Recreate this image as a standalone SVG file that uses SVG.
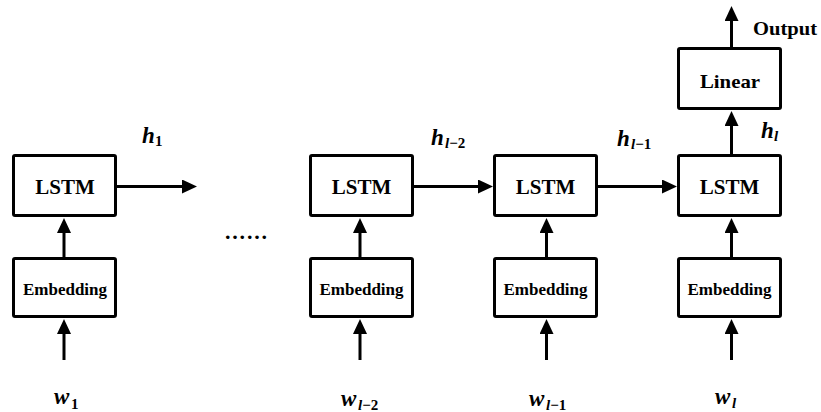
<svg xmlns="http://www.w3.org/2000/svg" width="821" height="412" viewBox="0 0 821 412">
<style>
.box{fill:#fff;stroke:#000;stroke-width:3;}
.lbl{font-family:"Liberation Serif","Times New Roman",serif;font-weight:bold;fill:#000;text-anchor:middle;}
.lstm{font-size:21px;}
.emb{font-size:17px;}
.lin{font-size:19px;}
.m{font-family:"Liberation Serif","Times New Roman",serif;font-weight:bold;font-style:italic;font-size:23px;fill:#000;}
.s{font-size:15px;}
.up{font-style:normal;}
.c{stroke:#000;stroke-width:3;fill:none;marker-end:url(#ah);}
</style>
<defs>
<marker id="ah" markerUnits="userSpaceOnUse" markerWidth="15" markerHeight="14" viewBox="0 0 15 14" refX="1" refY="7" orient="auto">
<path d="M0,0 L15,7 L0,14 z" fill="#000"/>
</marker>
</defs>
<g id="connectors">
<line class="c" x1="64" y1="360" x2="64" y2="333"/>
<line class="c" x1="64" y1="257" x2="64" y2="232"/>
<line class="c" x1="117" y1="186.5" x2="183" y2="186.5"/>
<line class="c" x1="360" y1="360" x2="360" y2="333"/>
<line class="c" x1="360" y1="257" x2="360" y2="232"/>
<line class="c" x1="414" y1="186.5" x2="479" y2="186.5"/>
<line class="c" x1="546.5" y1="360" x2="546.5" y2="333"/>
<line class="c" x1="546.5" y1="257" x2="546.5" y2="232"/>
<line class="c" x1="598" y1="186.5" x2="663" y2="186.5"/>
<line class="c" x1="731.5" y1="360" x2="731.5" y2="333"/>
<line class="c" x1="731.5" y1="257" x2="731.5" y2="232"/>
<line class="c" x1="731.5" y1="154" x2="731.5" y2="125"/>
<line class="c" x1="731.5" y1="47" x2="731.5" y2="20"/>
</g>
<g id="lstm1"><rect class="box" x="13.5" y="155.5" width="102" height="60" rx="1.5"/><text class="lbl lstm" x="65" y="194">LSTM</text></g>
<g id="emb1"><rect class="box" x="13.5" y="258.5" width="102" height="58" rx="1.5"/><text class="lbl emb" x="65" y="295">Embedding</text></g>
<g id="lstm2"><rect class="box" x="310.5" y="155.5" width="102" height="60" rx="1.5"/><text class="lbl lstm" x="361.5" y="194">LSTM</text></g>
<g id="emb2"><rect class="box" x="310.5" y="258.5" width="102" height="58" rx="1.5"/><text class="lbl emb" x="361.5" y="295">Embedding</text></g>
<g id="lstm3"><rect class="box" x="494.5" y="155.5" width="102" height="60" rx="1.5"/><text class="lbl lstm" x="545.5" y="194">LSTM</text></g>
<g id="emb3"><rect class="box" x="494.5" y="258.5" width="102" height="58" rx="1.5"/><text class="lbl emb" x="545.5" y="295">Embedding</text></g>
<g id="lstm4"><rect class="box" x="678.5" y="155.5" width="102" height="60" rx="1.5"/><text class="lbl lstm" x="729.5" y="194">LSTM</text></g>
<g id="emb4"><rect class="box" x="678.5" y="258.5" width="102" height="58" rx="1.5"/><text class="lbl emb" x="729.5" y="295">Embedding</text></g>
<g id="linear"><rect class="box" x="678.5" y="48.5" width="102" height="60" rx="1.5"/><text class="lbl lin" x="730" y="88" textLength="60" lengthAdjust="spacingAndGlyphs">Linear</text></g>
<g id="labels">
<text class="lbl" x="785" y="35" font-size="18" textLength="64" lengthAdjust="spacingAndGlyphs">Output</text>
<text class="m" x="142" y="143">h<tspan class="s up" x="155" y="146">1</tspan></text>
<text class="m" x="431" y="145">h<tspan class="s" x="445" y="148">l<tspan class="up">−2</tspan></tspan></text>
<text class="m" x="617" y="146">h<tspan class="s" x="631" y="149">l<tspan class="up">−1</tspan></tspan></text>
<text class="m" x="761" y="138">h<tspan class="s" x="774" y="141">l</tspan></text>
<text class="m" x="54" y="404">w<tspan class="s up" x="71" y="409">1</tspan></text>
<text class="m" x="341" y="406">w<tspan class="s" x="358" y="410">l<tspan class="up">−2</tspan></tspan></text>
<text class="m" x="529" y="406">w<tspan class="s" x="546" y="410">l<tspan class="up">−1</tspan></tspan></text>
<text class="m" x="715" y="404">w<tspan class="s" x="732" y="408">l</tspan></text>
<text x="225" y="239" font-family="Liberation Serif, serif" font-weight="bold" font-size="22" letter-spacing="1.8">......</text>
</g>
</svg>
